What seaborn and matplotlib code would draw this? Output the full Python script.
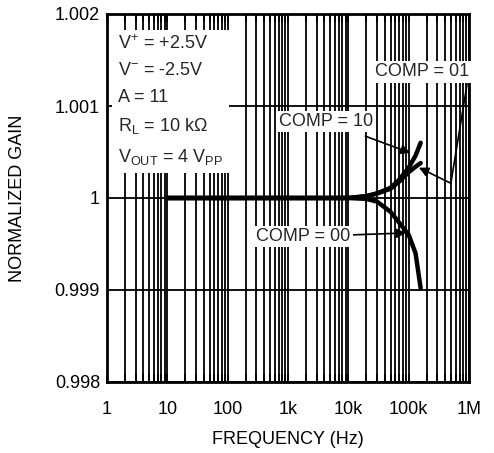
import numpy as np
import pandas as pd
import matplotlib
matplotlib.use("Agg")
import matplotlib.pyplot as plt
import seaborn as sns
from matplotlib.ticker import LogLocator, FixedLocator, NullFormatter

# ---- data ----
freq = [10, 100, 1e3, 1e4, 2e4, 3e4, 5e4, 7e4, 1e5, 1.3e5, 1.58e5]
comp10 = [1.0, 1.0, 1.0, 1.0, 1.00002, 1.00005, 1.00011, 1.0002, 1.00033, 1.00046, 1.0006]
comp01 = [1.0, 1.0, 1.0, 1.0, 1.00002, 1.00005, 1.0001, 1.00018, 1.00028, 1.00034, 1.00038]
comp00 = [1.0, 1.0, 1.0, 1.0, 0.99999, 0.99996, 0.99985, 0.99973, 0.9996, 0.9994, 0.99902]
series_names = ["COMP = 10", "COMP = 01", "COMP = 00"]
x_tick_vals = [1, 10, 100, 1e3, 1e4, 1e5, 1e6]
x_tick_labels = ["1", "10", "100", "1k", "10k", "100k", "1M"]
y_tick_vals = [0.998, 0.999, 1.0, 1.001, 1.002]
y_tick_labels = ["0.998", "0.999", "1", "1.001", "1.002"]

df = pd.concat([
    pd.DataFrame({"freq": freq, "gain": v, "comp": n})
    for n, v in zip(series_names, [comp10, comp01, comp00])
])

sns.set_theme(style="white")
plt.rcParams["font.family"] = ["Liberation Sans", "DejaVu Sans"]
plt.rcParams["mathtext.fontset"] = "custom"
plt.rcParams["mathtext.rm"] = "Liberation Sans"
plt.rcParams["mathtext.it"] = "Liberation Sans:italic"

FS = 13
fig = plt.figure(figsize=(4.94, 4.53), dpi=100)
ax = fig.add_axes([107 / 494, 1 - 382 / 453, (469 - 107) / 494, (382 - 14) / 453])

ax.set_xscale("log")
ax.set_xlim(1, 1e6)
ax.set_ylim(0.998, 1.002)

ax.xaxis.set_major_locator(FixedLocator(x_tick_vals))
ax.xaxis.set_minor_locator(LogLocator(base=10, subs=np.arange(2, 10)))
ax.xaxis.set_minor_formatter(NullFormatter())
ax.set_xticks(x_tick_vals)
ax.set_xticklabels(x_tick_labels, fontsize=FS)
ax.set_yticks(y_tick_vals)
ax.set_yticklabels(y_tick_labels, fontsize=FS)
ax.grid(True, which="both", axis="x", color="black", linewidth=1.3)
ax.grid(True, which="major", axis="y", color="black", linewidth=1.3)
ax.set_axisbelow(True)
ax.tick_params(axis="both", which="both", direction="in", colors="black",
               top=True, bottom=True, left=False, right=False, length=6, width=1.2)
ax.tick_params(axis="x", which="major", pad=14)
ax.tick_params(axis="y", which="major", pad=5)

for s in ax.spines.values():
    s.set_color("black")
    s.set_linewidth(2)

sns.lineplot(data=df, x="freq", y="gain", hue="comp", ax=ax,
             palette=["black"] * 3, linewidth=3.2, legend=False, zorder=3)

ax.set_xlabel("FREQUENCY (Hz)", fontsize=FS, labelpad=9, color="black")
ax.set_ylabel("NORMALIZED GAIN", fontsize=FS, labelpad=21, color="black")

# condition box
cond = ("$\\mathregular{V^{+}}$ = +2.5V\n"
        "$\\mathregular{V^{-}}$ = -2.5V\n"
        "A = 11\n"
        "R$_\\mathregular{L}$ = 10 k\u03a9\n"
        "V$_\\mathregular{OUT}$ = 4 V$_\\mathregular{PP}$")
ax.text(0.03, 0.945, cond, transform=ax.transAxes, fontsize=FS, va="top", ha="left",
        linespacing=1.72, zorder=5,
        bbox=dict(facecolor="white", edgecolor="none", pad=4))

# annotations
bb = dict(facecolor="white", edgecolor="none", pad=1.5)
ax.annotate("COMP = 10", xy=(1.07e5, 1.00049), xytext=(4.3e3, 1.00083),
            fontsize=FS, ha="center", va="center", bbox=bb, zorder=6,
            arrowprops=dict(arrowstyle="-|>", color="black", lw=1.2,
                            mutation_scale=14, shrinkA=8, shrinkB=0))
ax.annotate("COMP = 00", xy=(0.9e5, 0.99962), xytext=(1.8e3, 0.99958),
            fontsize=FS, ha="center", va="center", bbox=bb, zorder=6,
            arrowprops=dict(arrowstyle="-|>", color="black", lw=1.2,
                            mutation_scale=14, shrinkA=0, shrinkB=0))
ax.text(1.67e5, 1.00137, "COMP = 01", fontsize=FS, ha="center", va="center",
        bbox=bb, zorder=6)
ax.annotate("", xy=(5.0e5, 1.00016), xytext=(9.3e5, 1.00124),
            arrowprops=dict(arrowstyle="-", color="black", lw=1.2,
                            shrinkA=0, shrinkB=0), zorder=6)
ax.annotate("", xy=(1.48e5, 1.00033), xytext=(5.0e5, 1.00016),
            arrowprops=dict(arrowstyle="-|>", color="black", lw=1.2,
                            mutation_scale=14, shrinkA=0, shrinkB=0), zorder=6)

fig.savefig("out.png", dpi=100, facecolor="white")
